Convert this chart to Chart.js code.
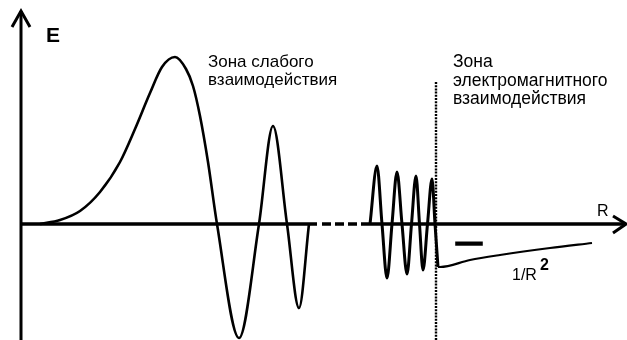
<!DOCTYPE html>
<html>
<head>
<meta charset="utf-8">
<script src="https://cdn.jsdelivr.net/npm/chart.js@4"></script>
<style>
  body { margin: 0; background: #fff; }
  canvas { display: block; }
</style>
</head>
<body>
<canvas id="waveChart" width="627" height="340"></canvas>
<script>
// slow wave (weak interaction zone), R measured from the E axis
const slowR = [19, 39, 59, 79, 99, 114, 129, 141, 154, 165, 172, 179, 187, 196, 218, 238, 252, 266, 278, 288];
const slowE = [0, 4, 13, 32, 62, 95, 131, 157, 167, 155, 138, 108, 62, 0, -114, 0, 98, 0, -84, 0];

// fast oscillations just before the boundary
const fastR = [349, 356, 361, 366, 371, 376, 381, 386, 390.5, 395, 398.5, 402, 406.5, 411, 414, 417];
const fastE = [0, 58, 0, -54, 0, 52, 0, -50, 0, 48, 0, -46, 0, 45, 0, -43];

// 1/R^2 tail
const tailR = [417, 419, 449, 479, 529, 571];
const tailE = [-43, -43, -36, -31, -24, -19];

// axis break (dashed part of R axis) and zone boundary
const gapR = [296, 349];
const boundaryR = 415;

const toPoints = (xs, ys) => xs.map((x, i) => ({ x: x, y: ys[i] }));

const sketchPlugin = {
    id: 'sketch',
    beforeDatasetsDraw(chart) {
        const ctx = chart.ctx;
        const xs = chart.scales.x;
        const ys = chart.scales.y;
        const x0 = xs.getPixelForValue(0);
        const y0 = ys.getPixelForValue(0);
        const xEnd = xs.getPixelForValue(xs.max) - 1;
        const yTop = ys.getPixelForValue(213);

        ctx.save();
        ctx.strokeStyle = '#000';
        ctx.lineCap = 'butt';

        // E axis
        ctx.lineWidth = 3;
        ctx.beginPath();
        ctx.moveTo(x0, chart.height);
        ctx.lineTo(x0, yTop);
        ctx.stroke();
        ctx.beginPath();
        ctx.moveTo(x0 - 9, yTop + 16);
        ctx.lineTo(x0, yTop);
        ctx.lineTo(x0 + 9, yTop + 16);
        ctx.stroke();

        // R axis, solid - dashed - solid
        const g1 = xs.getPixelForValue(gapR[0]);
        const g2 = xs.getPixelForValue(gapR[1]);
        ctx.lineWidth = 3.3;
        ctx.beginPath();
        ctx.moveTo(x0, y0);
        ctx.lineTo(g1, y0);
        ctx.moveTo(g2, y0);
        ctx.lineTo(xEnd, y0);
        ctx.stroke();
        ctx.setLineDash([9, 4]);
        ctx.beginPath();
        ctx.moveTo(g1 + 5, y0);
        ctx.lineTo(g2, y0);
        ctx.stroke();
        ctx.setLineDash([]);
        ctx.lineWidth = 3;
        ctx.beginPath();
        ctx.moveTo(xEnd - 13, y0 - 8);
        ctx.lineTo(xEnd, y0);
        ctx.lineTo(xEnd - 13, y0 + 9);
        ctx.stroke();
        ctx.restore();
    },
    afterDraw(chart) {
        const ctx = chart.ctx;
        const xs = chart.scales.x;
        const ys = chart.scales.y;
        ctx.save();

        // zone boundary
        const bx = xs.getPixelForValue(boundaryR);
        ctx.strokeStyle = '#000';
        ctx.lineWidth = 2.4;
        ctx.setLineDash([2, 1.2]);
        ctx.beginPath();
        ctx.moveTo(bx, ys.getPixelForValue(142));
        ctx.lineTo(bx, chart.height);
        ctx.stroke();
        ctx.setLineDash([]);

        ctx.fillStyle = '#000';
        ctx.strokeStyle = '#000';
        ctx.textBaseline = 'alphabetic';

        ctx.font = 'bold 21px "Liberation Sans", Arial, sans-serif';
        ctx.fillText('E', 46, 42);

        ctx.font = '17px "Liberation Sans", Arial, sans-serif';
        ctx.fillText('Зона слабого', 208, 67);
        ctx.fillText('взаимодействия', 208, 85);

        ctx.font = '17.5px "Liberation Sans", Arial, sans-serif';
        ctx.fillText('Зона', 453, 67);
        ctx.fillText('электромагнитного', 453, 86);
        ctx.fillText('взаимодействия', 453, 104);

        ctx.font = 'bold 26px "Liberation Sans", Arial, sans-serif';
        ctx.lineWidth = 1.6;
        ctx.fillText('—', 456, 251);
        ctx.strokeText('—', 456, 251);

        ctx.font = '16px "Liberation Sans", Arial, sans-serif';
        ctx.fillText('1/R', 512, 280);
        ctx.fillText('R', 597, 216);
        ctx.font = 'bold 16px "Liberation Sans", Arial, sans-serif';
        ctx.fillText('2', 540, 270);

        ctx.restore();
    }
};

new Chart(document.getElementById('waveChart'), {
    type: 'scatter',
    data: {
        datasets: [
            {
                data: toPoints(slowR, slowE),
                showLine: true,
                borderColor: '#000',
                borderWidth: 2.6,
                pointRadius: 0,
                cubicInterpolationMode: 'monotone'
            },
            {
                data: toPoints(fastR, fastE),
                showLine: true,
                borderColor: '#000',
                borderWidth: 3,
                pointRadius: 0,
                cubicInterpolationMode: 'monotone'
            },
            {
                data: toPoints(tailR, tailE),
                showLine: true,
                borderColor: '#000',
                borderWidth: 2.2,
                pointRadius: 0,
                cubicInterpolationMode: 'monotone'
            }
        ]
    },
    options: {
        responsive: false,
        animation: false,
        devicePixelRatio: 1,
        layout: { padding: 0 },
        plugins: {
            legend: { display: false },
            tooltip: { enabled: false }
        },
        scales: {
            x: { type: 'linear', min: -21, max: 606, display: false },
            y: { type: 'linear', min: -116, max: 224, display: false }
        }
    },
    plugins: [sketchPlugin]
});
</script>
</body>
</html>
